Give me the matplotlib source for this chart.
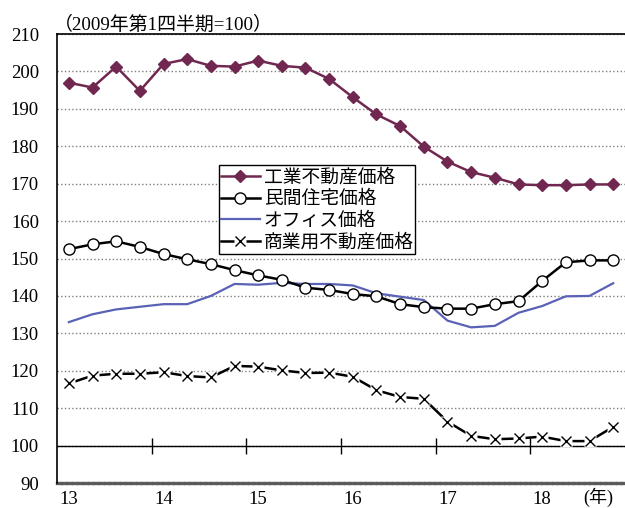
import matplotlib
matplotlib.use('Agg')
import matplotlib.pyplot as plt
from matplotlib.legend_handler import HandlerTuple
import numpy as np

# quarterly series, 2013Q1 - 2018Q4 (2009Q1 = 100)
quarters = np.arange(24)
year_labels = ['13', '14', '15', '16', '17', '18']
industrial = [197.0, 195.7, 201.3, 194.8, 202.0, 203.3, 201.5, 201.3, 202.9, 201.5, 201.0, 198.0,
              193.1, 188.5, 185.4, 179.9, 175.9, 173.1, 171.6, 169.8, 169.6, 169.6, 169.8, 169.8]
residential = [152.5, 153.8, 154.6, 153.1, 151.2, 149.8, 148.5, 146.9, 145.5, 144.3, 142.2, 141.6,
               140.5, 139.9, 137.8, 137.0, 136.6, 136.6, 137.8, 138.6, 144.0, 149.0, 149.5, 149.5]
office = [133.0, 135.1, 136.4, 137.1, 137.8, 137.8, 140.0, 143.2, 143.0, 143.5, 143.2, 143.2,
          142.8, 140.7, 139.8, 138.9, 133.4, 131.6, 132.0, 135.5, 137.3, 139.9, 140.0, 143.4]
commercial = [116.6, 118.7, 119.2, 119.2, 119.6, 118.6, 118.2, 121.3, 121.1, 120.1, 119.4, 119.5,
              118.4, 114.8, 113.0, 112.5, 106.4, 102.6, 101.7, 101.9, 102.4, 101.2, 101.2, 105.0]
labels = ['工業不動産価格', '民間住宅価格', 'オフィス価格', '商業用不動産価格']

serif = ['Liberation Serif', 'Noto Sans CJK JP']
jp = ['Noto Sans CJK JP', 'DejaVu Sans']

fig = plt.figure(figsize=(6.25, 5.08), dpi=100)
ax = fig.add_axes([0.0912, 0.0492, 0.9088, 0.8838])

# data
l1, = ax.plot(quarters, industrial, color='#702850', lw=1.8, marker='D', ms=6.5, zorder=5)
l2, = ax.plot(quarters, residential, color='black', lw=1.8, marker='o', ms=8,
              mfc='white', mec='black', mew=1.0, zorder=5)
l3, = ax.plot(quarters, office, color='#5a62b6', lw=1.6, zorder=4)
l4, = ax.plot(quarters, commercial, color='black', lw=1.8, zorder=4)
# white patches behind the crosses give the broken look of the line
l4b, = ax.plot(quarters, commercial, ls='none', marker='s', ms=9, mfc='white', mec='none', zorder=4.5)
l4c, = ax.plot(quarters, commercial, ls='none', marker='x', ms=7.5, mec='black', mew=1.0, zorder=5)

ax.set_xlim(-0.5, 23.5)
ax.set_ylim(90, 210)

# y axis
ax.set_yticks(np.arange(90, 211, 10))
ax.tick_params(axis='y', length=0, pad=13)
for t in ax.get_yticklabels():
    t.set_fontfamily(serif)
    t.set_fontsize(13.5)
ax.yaxis.grid(True, color='#808080', ls=':', lw=1.0)
ax.set_axisbelow(True)

# x axis line crosses at 100, ticks at year boundaries
ax.spines['bottom'].set_position(('data', 100))
ax.spines['bottom'].set_linewidth(1.0)
ax.set_xticks(np.arange(3.5, 23, 4))
ax.tick_params(axis='x', direction='inout', length=12, width=1.0, labelbottom=False)
ax.spines['right'].set_visible(False)
ax.spines['top'].set_linewidth(1.2)
ax.spines['left'].set_linewidth(1.2)

# year labels along the bottom edge
sec = ax.secondary_xaxis(0.0)
sec.set_xticks(range(0, 24, 4))
sec.set_xticklabels(year_labels)
sec.tick_params(length=0, pad=6)
for t in sec.get_xticklabels():
    t.set_fontfamily(serif)
    t.set_fontsize(13.5)
sec.spines['bottom'].set_color('#5a5a5a')
sec.spines['bottom'].set_linestyle((0, (1, 0.6)))
sec.spines['bottom'].set_linewidth(2.4)

fig.text(0.957, 0.009, '(年)', fontfamily=serif, fontsize=13,
         va='baseline', ha='center')

fig.text(0.0864, 0.951, '（2009年第1四半期=100）', fontfamily=serif, fontsize=13.6,
         va='center', ha='left')

leg = fig.legend([l1, l2, l3, (l4, l4b, l4c)], labels,
                 handler_map={tuple: HandlerTuple(ndivide=1)},
                 loc='upper left', bbox_to_anchor=(0.3504, 0.675),
                 prop={'family': jp, 'size': 13.5}, frameon=True, fancybox=False,
                 edgecolor='black', framealpha=1, borderpad=0.08, labelspacing=0.03,
                 handlelength=2.1, handletextpad=0.2, borderaxespad=0)
leg.get_frame().set_linewidth(1.0)

fig.savefig('out.png', dpi=100)
